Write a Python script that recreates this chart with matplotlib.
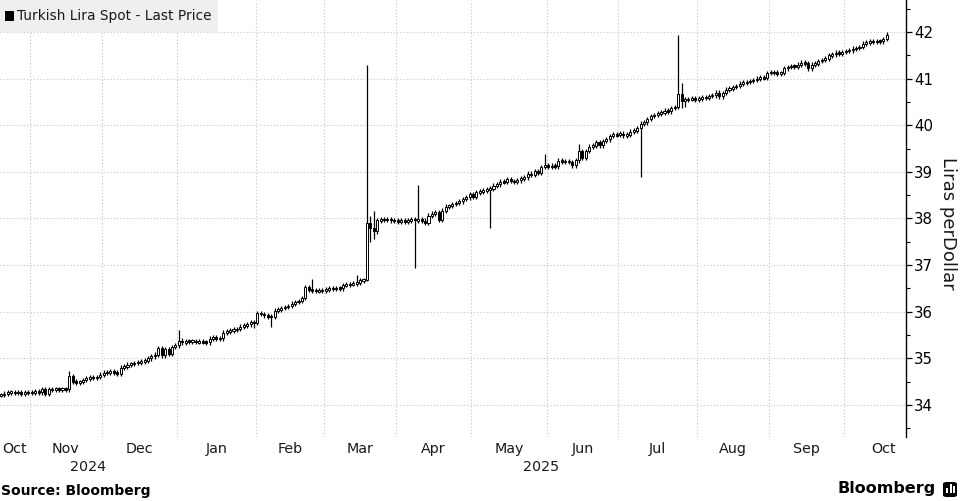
import numpy as np
import pandas as pd
import matplotlib
matplotlib.use("Agg")
import matplotlib.pyplot as plt
from matplotlib.patches import Rectangle, FancyBboxPatch
from matplotlib.transforms import blended_transform_factory

# ---------------- data (USD/TRY daily, weekdays) ----------------
first_day = "2024-10-21"
last_day = "2025-10-17"

close_oct24 = [34.21, 34.24, 34.27, 34.27, 34.26, 34.27, 34.25, 34.27, 34.26]
close_nov24 = [34.27, 34.28, 34.27, 34.34, 34.24, 34.33, 34.33, 34.34, 34.33, 34.34,
               34.33, 34.62, 34.50, 34.48, 34.49, 34.53, 34.57, 34.59, 34.58, 34.60,
               34.65]
close_dec24 = [34.69, 34.70, 34.71, 34.70, 34.66, 34.80, 34.82, 34.86, 34.88, 34.90,
               34.91, 34.93, 34.95, 35.00, 35.04, 35.08, 35.22, 35.06, 35.20, 35.10,
               35.24, 35.28]
close_jan25 = [35.38, 35.34, 35.37, 35.36, 35.37, 35.35, 35.36, 35.35, 35.34, 35.42,
               35.45, 35.41, 35.43, 35.55, 35.58, 35.60, 35.61, 35.63, 35.68, 35.70,
               35.73, 35.77, 35.76]
close_feb25 = [35.97, 35.95, 35.92, 35.90, 35.89, 36.02, 36.04, 36.08, 36.10, 36.12,
               36.17, 36.21, 36.23, 36.29, 36.53, 36.47, 36.46, 36.44, 36.45, 36.46]
close_mar25 = [36.48, 36.50, 36.49, 36.51, 36.50, 36.57, 36.58, 36.59, 36.60, 36.62,
               36.67, 36.68, 37.90, 37.79, 37.72, 37.96, 37.98, 37.97, 37.99, 37.96,
               37.95]
close_apr25 = [37.94, 37.96, 37.93, 37.95, 37.99, 37.96, 37.97, 37.95, 37.91, 38.06,
               38.10, 38.14, 37.97, 38.17, 38.25, 38.27, 38.31, 38.33, 38.37, 38.42,
               38.45, 38.52]
close_may25 = [38.47, 38.56, 38.58, 38.60, 38.62, 38.64, 38.70, 38.73, 38.79, 38.78,
               38.84, 38.80, 38.79, 38.82, 38.86, 38.88, 38.96, 38.93, 39.02, 38.98,
               39.10, 39.14]
close_jun25 = [39.10, 39.13, 39.12, 39.24, 39.22, 39.23, 39.21, 39.14, 39.25, 39.44,
               39.30, 39.45, 39.54, 39.56, 39.63, 39.57, 39.66, 39.70, 39.77, 39.80,
               39.79]
close_jul25 = [39.82, 39.78, 39.80, 39.86, 39.88, 39.93, 40.03, 40.06, 40.13, 40.20,
               40.22, 40.25, 40.27, 40.31, 40.30, 40.37, 40.39, 40.66, 40.52, 40.55,
               40.56, 40.57, 40.55]
close_aug25 = [40.58, 40.60, 40.59, 40.63, 40.64, 40.70, 40.62, 40.69, 40.76, 40.79,
               40.82, 40.84, 40.89, 40.91, 40.93, 40.95, 40.97, 41.00, 41.02, 41.01,
               41.12]
close_sep25 = [41.14, 41.13, 41.11, 41.12, 41.22, 41.25, 41.27, 41.26, 41.30, 41.34,
               41.33, 41.22, 41.30, 41.32, 41.38, 41.40, 41.43, 41.50, 41.52, 41.56,
               41.53, 41.57]
close_oct25 = [41.59, 41.61, 41.64, 41.66, 41.68, 41.75, 41.78, 41.80, 41.79, 41.81,
               41.80, 41.85, 41.94]

# intraday extremes that stand out from the candle body: date -> (high, low)
extremes = {
    "2024-11-18": (34.73, None),
    "2025-01-01": (35.60, None),
    "2025-01-31": (None, 35.65),
    "2025-02-07": (None, 35.68),
    "2025-02-25": (36.71, None),
    "2025-03-14": (36.79, None),
    "2025-03-19": (41.29, 36.66),
    "2025-03-20": (38.05, 37.50),
    "2025-03-21": (38.15, 37.55),
    "2025-04-08": (None, 36.93),
    "2025-04-09": (38.72, None),
    "2025-05-08": (None, 37.79),
    "2025-05-30": (39.38, None),
    "2025-06-13": (39.60, None),
    "2025-07-09": (None, 38.89),
    "2025-07-24": (41.94, None),
    "2025-07-25": (40.90, 40.36),
    "2025-07-28": (None, 40.40),
}

legend_label = "Turkish Lira Spot - Last Price"
y_label = "Liras perDollar"
source_text = "Source: Bloomberg"
brand_text = "Bloomberg"
y_ticks = [34, 35, 36, 37, 38, 39, 40, 41, 42]
year_labels = ["2024", "2025"]

# ---------------- build OHLC ----------------
dates = pd.bdate_range(first_day, last_day)
closes = np.array(close_oct24 + close_nov24 + close_dec24 + close_jan25 + close_feb25 +
                  close_mar25 + close_apr25 + close_may25 + close_jun25 + close_jul25 +
                  close_aug25 + close_sep25 + close_oct25)
assert len(dates) == len(closes), (len(dates), len(closes))
opens = np.r_[closes[0], closes[:-1]]          # FX open = previous close
WICK_PAD = 0.05                                 # visual stub for tiny wicks
MIN_BODY = 0.035                                # minimum drawn body height
highs = np.maximum(opens, closes) + WICK_PAD
lows = np.minimum(opens, closes) - WICK_PAD
pos_of = {d.strftime("%Y-%m-%d"): k for k, d in enumerate(dates)}
for d, (h, l) in extremes.items():
    k = pos_of[d]
    if h is not None:
        highs[k] = h
    if l is not None:
        lows[k] = l
xpos = np.arange(len(dates))

# ---------------- figure ----------------
W, H, DPI = 960, 501, 100
fig = plt.figure(figsize=(W / DPI, H / DPI), dpi=DPI)
ax_left, ax_right, ax_top, ax_bot = 0, 906, 0, 437
ax = fig.add_axes([ax_left / W, 1 - ax_bot / H, (ax_right - ax_left) / W, (ax_bot - ax_top) / H])

XL = (-0.27, 264.6)
YL = (33.31, 42.687)
ax.set_xlim(*XL)
ax.set_ylim(*YL)

grid_kw = dict(color="#c4c4c4", lw=0.8, ls=(0, (1, 2)), zorder=0)
for yv in y_ticks:
    ax.axhline(yv, **grid_kw)

# month boundaries on the weekday axis (extended calendar)
full = pd.bdate_range("2024-10-01", "2025-10-31")
offset = list(full).index(dates[0])
full_pos = np.arange(len(full)) - offset
months = full.to_period("M")
starts = [k for k in range(len(full)) if k == 0 or months[k] != months[k - 1]]
bounds = [full_pos[k] - 0.5 for k in starts] + [full_pos[-1] + 0.5]
trans = blended_transform_factory(ax.transData, ax.transAxes)
for b in bounds[1:-1]:
    if XL[0] < b < XL[1]:
        ax.axvline(b, **grid_kw)
for j, k in enumerate(starts):
    lo, hi = max(bounds[j], XL[0]), bounds[j + 1]
    ax.text((lo + hi) / 2, -(449 - 437) / 437, full[k].strftime("%b"), transform=trans,
            ha="center", va="center", fontsize=10.3, color="#1a1a1a")
# year labels
year_bound = full_pos[[k for k in starts if full[k].month == 1][0]] - 0.5
for lab, (lo, hi) in zip(year_labels, [(XL[0], year_bound), (year_bound, XL[1])]):
    ax.text((lo + hi) / 2, -(467 - 437) / 437, lab, transform=trans,
            ha="center", va="center", fontsize=10.3, color="#1a1a1a")

# candles
up = closes >= opens
body_lo = np.minimum(opens, closes)
body_h = np.maximum(np.abs(closes - opens), MIN_BODY)
body_lo = np.where(np.abs(closes - opens) < MIN_BODY, (opens + closes) / 2 - MIN_BODY / 2, body_lo)
ax.vlines(xpos, lows, highs, color="black", lw=0.9, zorder=3)
body_w = 0.6
ax.bar(xpos[up], body_h[up], bottom=body_lo[up], width=body_w,
       facecolor="white", edgecolor="black", lw=0.7, zorder=4)
ax.bar(xpos[~up], body_h[~up], bottom=body_lo[~up], width=body_w,
       facecolor="black", edgecolor="black", lw=0.7, zorder=4)

# axes styling
for s in ["top", "left", "bottom"]:
    ax.spines[s].set_visible(False)
ax.spines["right"].set_color("black")
ax.spines["right"].set_linewidth(1.0)
ax.yaxis.tick_right()
ax.set_yticks(y_ticks)
ax.set_yticks(np.arange(33.5, 42.6, 1.0), minor=True)
ax.tick_params(axis="y", which="major", direction="out", length=4, width=0.9,
               pad=2, labelsize=10.8, colors="black")
ax.tick_params(axis="y", which="minor", direction="out", length=3, width=0.8)
ax.set_xticks([])
ax.set_facecolor("white")

fig.text(948 / W, 1 - 223 / H, y_label, rotation=270, ha="center", va="center",
         fontsize=13, color="#1a1a1a")

# legend box
fig.patches.append(Rectangle((0, 1 - 32 / H), 218 / W, 32 / H, transform=fig.transFigure,
                             facecolor="#efefef", edgecolor="none", zorder=5))
fig.patches.append(Rectangle((5 / W, 1 - 21 / H), 9 / W, 10 / H, transform=fig.transFigure,
                             facecolor="black", edgecolor="none", zorder=6))
fig.text(17 / W, 1 - 16 / H, legend_label, ha="left", va="center", fontsize=9.9,
         color="#1a1a1a", zorder=7)

# footer
fig.text(1 / W, 1 - 491 / H, source_text, ha="left", va="center", fontsize=10,
         fontweight="bold", color="black")
fig.text(936 / W, 1 - 489 / H, brand_text, ha="right", va="center", fontsize=11.5,
         fontweight="bold", color="black")
fig.patches.append(FancyBboxPatch((943 / W, 1 - 497 / H), 14 / W, 15 / H,
                                  boxstyle="round,pad=0,rounding_size=0.004",
                                  transform=fig.transFigure, facecolor="black",
                                  edgecolor="none", zorder=6))
for bx, bh in [(946, 5), (949.5, 9), (953, 7)]:
    fig.patches.append(Rectangle((bx / W, 1 - 493 / H), 2 / W, bh / H,
                                 transform=fig.transFigure, facecolor="white",
                                 edgecolor="none", zorder=7))

fig.savefig("out.png", dpi=DPI)
